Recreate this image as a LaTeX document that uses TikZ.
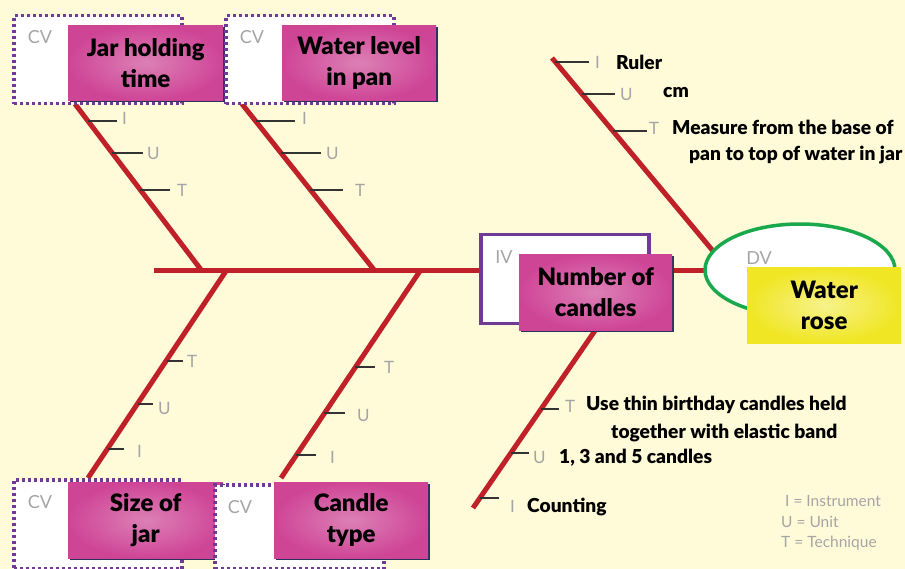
\documentclass[tikz,border=0pt]{standalone}
\usepackage{fontspec}
\setmainfont{Lato}[BoldFont={Lato Black}]
\usetikzlibrary{shapes.geometric,shadows}
\definecolor{bg}{RGB}{255,251,217}
\definecolor{fishred}{RGB}{192,32,40}
\definecolor{cvpurple}{RGB}{112,58,150}
\definecolor{magout}{RGB}{207,69,150}
\definecolor{magin}{RGB}{220,128,182}
\definecolor{yelout}{RGB}{240,230,35}
\definecolor{yelin}{RGB}{247,242,140}
\definecolor{dvgreen}{RGB}{25,168,75}
\definecolor{lblgray}{RGB}{165,165,165}
\definecolor{shadowblue}{RGB}{40,50,90}
\newcommand\boxfont{\fontsize{24}{31}\selectfont\bfseries}
\newcommand\infofont{\fontsize{19.2}{22}\selectfont\bfseries}
\begin{document}
\begin{tikzpicture}[x=1pt,y=-1pt,
  bone/.style={draw=fishred, line width=5pt},
  tickline/.style={draw=black!80, line width=1.2pt},
  ticklbl/.style={anchor=west, inner sep=0pt, text=lblgray, font=\fontsize{17}{17}\selectfont},
  cvlbl/.style={inner sep=0pt, text=lblgray, font=\fontsize{18}{18}\selectfont},
  infotext/.style={anchor=west, inner sep=0pt, font=\infofont},
  legend/.style={anchor=west, inner sep=0pt, text=lblgray, font=\fontsize{15.5}{15.5}\selectfont},
  cvbox/.style={draw=cvpurple, fill=white, line width=3.5pt, dash pattern=on 3pt off 3pt, anchor=north west, inner sep=0pt},
  ivbox/.style={draw=cvpurple, fill=white, line width=3.5pt, anchor=north west, inner sep=0pt},
  magbox/.style={anchor=north west, inner sep=0pt, align=center, font=\boxfont, inner color=magin, outer color=magout,
    drop shadow={shadow xshift=2.2pt, shadow yshift=-2.2pt, fill=shadowblue, opacity=1}},
  yelbox/.style={anchor=north west, inner sep=0pt, align=center, font=\boxfont, inner color=yelin, outer color=yelout},
]
\fill[bg] (0,0) rectangle (905,569);
\useasboundingbox (0,0) rectangle (905,569);

% spine and bones
\coordinate (spineL) at (154,271);
\coordinate (spineR) at (708,271);
\draw[bone] (spineL) -- (spineR);

\coordinate (b1s) at (75,104);  \coordinate (b1e) at (202,271);
\coordinate (b2s) at (242,104); \coordinate (b2e) at (375,271);
\coordinate (b3s) at (88,478);  \coordinate (b3e) at (226,271);
\coordinate (b4s) at (281,478); \coordinate (b4e) at (420,271);
\coordinate (b5s) at (552,58);  \coordinate (b5e) at (713,251);
\coordinate (b6s) at (473,508); \coordinate (b6e) at (636,271);
\draw[bone] (b1s) -- (b1e);
\draw[bone] (b2s) -- (b2e);
\draw[bone] (b3s) -- (b3e);
\draw[bone] (b4s) -- (b4e);
\draw[bone] (b5s) -- (b5e);
\draw[bone] (b6s) -- (b6e);

% ticks branch 1
\coordinate (t1i) at (88,121);  \coordinate (t1u) at (112,153); \coordinate (t1t) at (140,190);
\node[ticklbl] (l1i) at (122,118) {I};
\node[ticklbl] (l1u) at (147,153) {U};
\node[ticklbl] (l1t) at (177,190) {T};
\draw[tickline] (t1i) -- ++(29,0);
\draw[tickline] (t1u) -- ++(31,0);
\draw[tickline] (t1t) -- ++(30,0);
% ticks branch 2
\coordinate (t2i) at (256,121); \coordinate (t2u) at (281,153); \coordinate (t2t) at (310,190);
\node[ticklbl] (l2i) at (302,118) {I};
\node[ticklbl] (l2u) at (326,153) {U};
\node[ticklbl] (l2t) at (355,190) {T};
\draw[tickline] (t2i) -- ++(39,0);
\draw[tickline] (t2u) -- ++(40,0);
\draw[tickline] (t2t) -- ++(33,0);
% ticks branch 3
\coordinate (t3t) at (167,361); \coordinate (t3u) at (138,404); \coordinate (t3i) at (108,449);
\node[ticklbl] (l3t) at (187,361) {T};
\node[ticklbl] (l3u) at (158,408) {U};
\node[ticklbl] (l3i) at (137,451) {I};
\draw[tickline] (t3t) -- ++(16,0);
\draw[tickline] (t3u) -- ++(15,0);
\draw[tickline] (t3i) -- ++(16,0);
% ticks branch 4
\coordinate (t4t) at (355,367); \coordinate (t4u) at (324,413); \coordinate (t4i) at (296,455);
\node[ticklbl] (l4t) at (384,367) {T};
\node[ticklbl] (l4u) at (357,415) {U};
\node[ticklbl] (l4i) at (330,457) {I};
\draw[tickline] (t4t) -- ++(20,0);
\draw[tickline] (t4u) -- ++(21,0);
\draw[tickline] (t4i) -- ++(20,0);
% ticks branch 5 (upper right)
\coordinate (t5i) at (555,62); \coordinate (t5u) at (582,94); \coordinate (t5t) at (613,131);
\node[ticklbl] (l5i) at (595,62) {I};
\node[ticklbl] (l5u) at (620,94) {U};
\node[ticklbl] (l5t) at (649,128) {T};
\draw[tickline] (t5i) -- ++(34,0);
\draw[tickline] (t5u) -- ++(33,0);
\draw[tickline] (t5t) -- ++(34,0);
\node[infotext] (ruler) at (616,62) {Ruler};
\node[infotext] (cm) at (663,93) {cm};
\node[infotext] (meas1) at (672,127) {Measure from the base of};
\node[infotext] (meas2) at (689,155) {pan to top of water in jar};
% ticks branch 6 (lower right)
\coordinate (t6t) at (541,409); \coordinate (t6u) at (511,453); \coordinate (t6i) at (480,498);
\node[ticklbl] (l6t) at (565,406) {T};
\node[ticklbl] (l6u) at (533,457) {U};
\node[ticklbl] (l6i) at (510,506) {I};
\draw[tickline] (t6t) -- ++(18,0);
\draw[tickline] (t6u) -- ++(18,0);
\draw[tickline] (t6i) -- ++(19,0);
\node[infotext] (use1) at (586,405) {Use thin birthday candles held};
\node[infotext] (use2) at (611,433) {together with elastic band};
\node[infotext] (num) at (559,458) {1, 3 and 5 candles};
\node[infotext] (count) at (527,507) {Counting};

% legend
\node[legend] (lgi) at (785,501) {I = Instrument};
\node[legend] (lgu) at (781,522) {U = Unit};
\node[legend] (lgt) at (781,543) {T = Technique};

% CV boxes
\node[cvbox, minimum width=168, minimum height=88] (cv1) at (12,14) {};
\node[cvlbl] (cv1l) at (40,37) {CV};
\node[magbox, minimum width=155, minimum height=75] (m1) at (68,25) {Jar holding\\time};

\node[cvbox, minimum width=168, minimum height=88] (cv2) at (224,14) {};
\node[cvlbl] (cv2l) at (252,37) {CV};
\node[magbox, minimum width=154, minimum height=75] (m2) at (282,25) {Water level\\in pan};

\node[cvbox, minimum width=168, minimum height=89] (cv3) at (12,478) {};
\node[cvlbl] (cv3l) at (40,502) {CV};
\node[magbox, minimum width=155, minimum height=76] (m3) at (68,482) {Size of\\jar};

\node[cvbox, minimum width=169, minimum height=84] (cv4) at (213,483) {};
\node[cvlbl] (cv4l) at (240,507) {CV};
\node[magbox, minimum width=154, minimum height=76] (m4) at (274,482) {Candle\\type};

% IV box
\node[ivbox, minimum width=168, minimum height=89] (iv) at (479,233) {};
\node[cvlbl] (ivl) at (504,257) {IV};
\node[magbox, minimum width=153, minimum height=76] (m5) at (519,254) {Number of\\candles};

% DV
\node[ellipse, draw=dvgreen, fill=white, line width=3.5pt, minimum width=190, minimum height=92, inner sep=0pt] (dv) at (800,270) {};
\node[cvlbl] (dvl) at (759,258) {DV};
\node[yelbox, minimum width=154, minimum height=76] (wr) at (747,267) {Water\\rose};
\end{tikzpicture}
\end{document}
